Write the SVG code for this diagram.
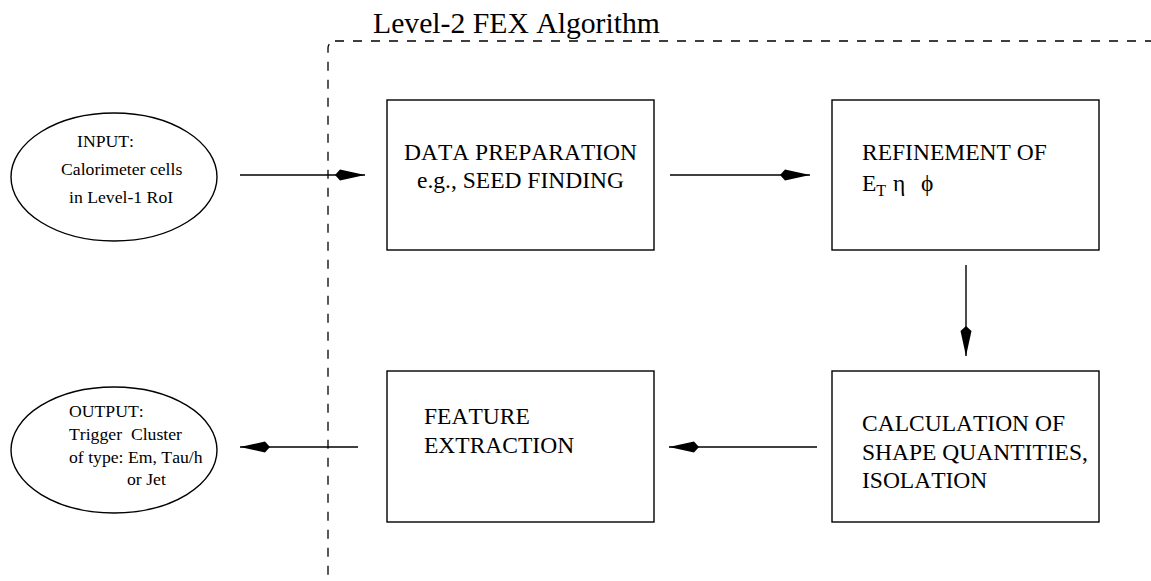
<svg xmlns="http://www.w3.org/2000/svg" width="1151" height="581" viewBox="0 0 1151 581">
<style>
text{font-kerning:none}
.t{font-size:17.7px}
.b{font-size:23.5px}
.box{fill:#fff;stroke:#000;stroke-width:1.4}
.ell{fill:#fff;stroke:#000;stroke-width:1.4}
.con{fill:none;stroke:#000;stroke-width:1.4;marker-end:url(#ah)}
</style>
<defs>
<marker id="ah" viewBox="-31 -7 32 14" refX="0" refY="0" markerWidth="32" markerHeight="14" markerUnits="userSpaceOnUse" orient="auto">
<path d="M-30,0 L-25,-5.5 L0,0 L-25,5.5 Z" fill="#000"/>
</marker>
</defs>
<g font-family="'Liberation Serif', 'Times New Roman', 'DejaVu Serif', serif" fill="#000">
<rect id="frame" x="328" y="41" width="900" height="545" rx="7" fill="none" stroke="#000" stroke-width="1.3" stroke-dasharray="9 9"/>
<text x="373" y="33" font-size="29.7">Level-2 FEX Algorithm</text>
<g id="input">
<ellipse class="ell" cx="114" cy="177" rx="103" ry="64"/>
<text class="t" x="77" y="147">INPUT:</text>
<text class="t" x="61" y="175">Calorimeter cells</text>
<text class="t" x="69" y="203">in Level-1 RoI</text>
</g>
<g id="output">
<ellipse class="ell" cx="114" cy="450" rx="103" ry="63"/>
<text class="t" x="69" y="417">OUTPUT:</text>
<text class="t" x="69" y="440" xml:space="preserve">Trigger  Cluster</text>
<text class="t" x="69" y="463">of type: Em, Tau/h</text>
<text class="t" x="127" y="485">or Jet</text>
</g>
<g id="dataprep">
<rect class="box" x="387" y="100" width="267" height="150"/>
<text class="b" x="520.5" y="160" text-anchor="middle">DATA PREPARATION</text>
<text class="b" x="520.5" y="188" text-anchor="middle">e.g., SEED FINDING</text>
</g>
<g id="refinement">
<rect class="box" x="832" y="100" width="267" height="150"/>
<text class="b" x="862" y="160">REFINEMENT OF</text>
<text class="b" x="862" y="191">E<tspan font-size="16" dy="5">T</tspan></text>
<text class="b" x="893" y="191">η</text>
<text class="b" x="921" y="191">ϕ</text>
</g>
<g id="calculation">
<rect class="box" x="832" y="371" width="267" height="151"/>
<text class="b" x="862" y="431">CALCULATION OF</text>
<text class="b" x="862" y="460">SHAPE QUANTITIES,</text>
<text class="b" x="862" y="488">ISOLATION</text>
</g>
<g id="feature">
<rect class="box" x="387" y="371" width="267" height="151"/>
<text class="b" x="424" y="424">FEATURE</text>
<text class="b" x="424" y="453">EXTRACTION</text>
</g>
</g>
<g id="connectors">
<path class="con" d="M240,175 H365"/>
<path class="con" d="M670,175 H810"/>
<path class="con" d="M966,265 V356"/>
<path class="con" d="M817,447 H669"/>
<path class="con" d="M358,447 H240"/>
</g>
</svg>
